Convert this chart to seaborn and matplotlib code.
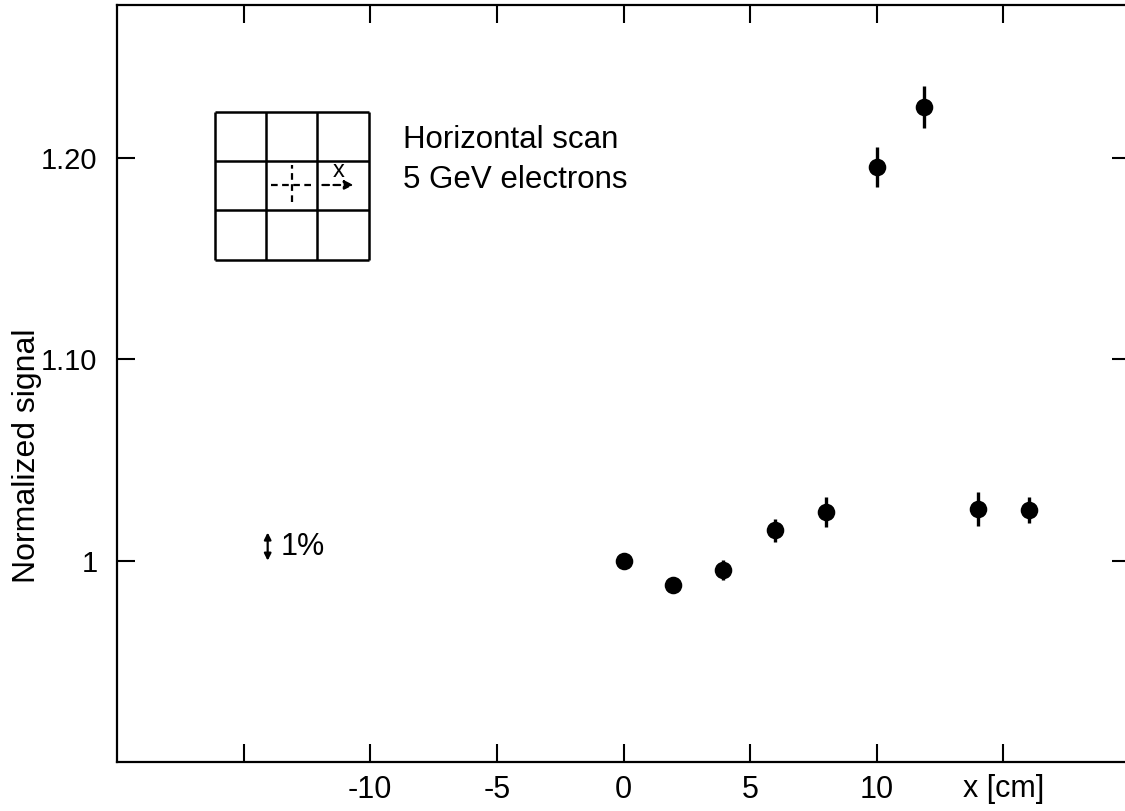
import numpy as np
import matplotlib
matplotlib.use("Agg")
import matplotlib.pyplot as plt
import seaborn as sns

# data
x_pos = [0.0, 1.95, 3.92, 6.0, 8.0, 10.0, 11.85, 14.0, 16.0]
signal = [1.000, 0.988, 0.9955, 1.015, 1.024, 1.1955, 1.2255, 1.0255, 1.025]
signal_err = [0.004, 0.004, 0.005, 0.0055, 0.0075, 0.010, 0.0105, 0.0085, 0.0065]

x_ticks = [-15, -10, -5, 0, 5, 10, 15]
x_ticklabels = ["", "-10", "-5", "0", "5", "10", "x [cm]"]
y_ticks = [1.0, 1.1, 1.2]
y_ticklabels = ["1", "1.10", "1.20"]

sns.set_style("ticks")
plt.rcParams["font.family"] = ["Liberation Sans", "DejaVu Sans"]
plt.rcParams["text.color"] = "black"
plt.rcParams["axes.labelcolor"] = "black"
plt.rcParams["xtick.color"] = "black"
plt.rcParams["ytick.color"] = "black"

fig = plt.figure(figsize=(11.25, 8.11), dpi=100)
ax = fig.add_axes([117 / 1125, 1 - 762 / 811, (1130 - 117) / 1125, (762 - 5) / 811])

ax.errorbar(x_pos, signal, yerr=signal_err, fmt="none", ecolor="black", elinewidth=2.4, capsize=0)
sns.scatterplot(x=x_pos, y=signal, ax=ax, color="black", s=160, edgecolor="black", linewidth=0, zorder=3)

ax.set_xlim(-20, 20)
ax.set_ylim(0.90, 1.276)
ax.set_xticks(x_ticks)
ax.set_xticklabels(x_ticklabels)
ax.set_yticks(y_ticks)
ax.set_yticklabels(y_ticklabels)
ax.tick_params(direction="in", length=13, width=1.5, labelsize=22, top=True, right=True, color="black",
               labelcolor="black")
ax.tick_params(axis="x", pad=9)
ax.tick_params(axis="y", pad=14, labelsize=21)
for sp in ax.spines.values():
    sp.set_visible(True)
    sp.set_linewidth(1.6)
    sp.set_color("black")

ax.set_ylabel("Normalized signal", fontsize=23, va="center")
ax.yaxis.set_label_coords(-0.089, 0.405)

# sketch of the 3x3 cell matrix
gx = np.linspace(-16.15, -10.05, 4)
gy = np.linspace(1.1495, 1.2228, 4)
for v in gx:
    ax.plot([v, v], [gy[0], gy[-1]], color="black", lw=1.8, solid_capstyle="butt")
for v in gy:
    ax.plot([gx[0], gx[-1]], [v, v], color="black", lw=1.8, solid_capstyle="butt")
ax.plot([-13.9, -12.3], [1.1866, 1.1866], color="black", lw=1.6, ls=(0, (3, 2)))
ax.plot([-13.08, -13.08], [1.178, 1.1965], color="black", lw=1.6, ls=(0, (3, 2)))
ax.annotate("", xy=(-10.55, 1.1866), xytext=(-12.0, 1.1866),
            arrowprops=dict(arrowstyle="-|>", color="black", lw=1.6, ls=(0, (3, 2)), mutation_scale=13))
ax.text(-11.25, 1.1935, "x", fontsize=17, ha="center", va="center")

ax.text(-8.7, 1.199, "Horizontal scan\n5 GeV electrons", fontsize=22.5, ha="left", va="center",
        linespacing=1.45)

# 1% scale marker
ax.annotate("", xy=(-14.05, 1.0), xytext=(-14.05, 1.014),
            arrowprops=dict(arrowstyle="<|-|>", color="black", lw=1.6, mutation_scale=10, shrinkA=0, shrinkB=0))
ax.text(-13.55, 1.0068, "1%", fontsize=22, ha="left", va="center")

fig.savefig("out.png", dpi=100, facecolor="white")
